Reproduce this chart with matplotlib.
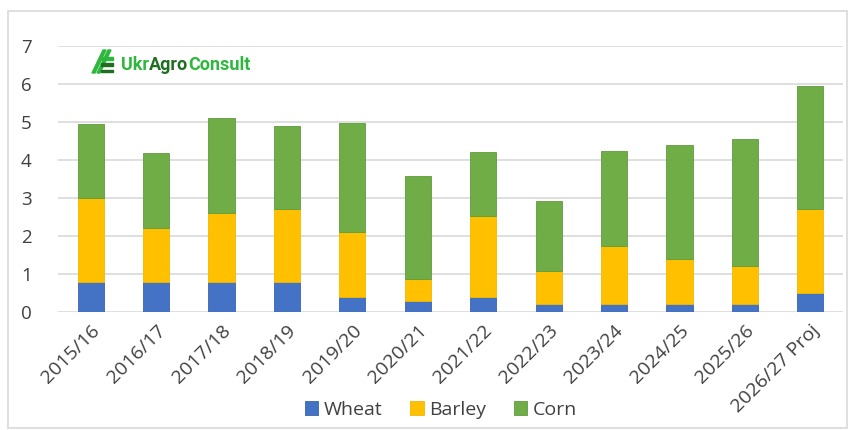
import numpy as np
import matplotlib.pyplot as plt
from matplotlib.patches import Rectangle, Polygon

# Data (million tonnes)
seasons = ['2015/16', '2016/17', '2017/18', '2018/19', '2019/20', '2020/21',
           '2021/22', '2022/23', '2023/24', '2024/25', '2025/26', '2026/27 Proj']
wheat = [0.8, 0.8, 0.8, 0.8, 0.4, 0.3, 0.4, 0.2, 0.2, 0.2, 0.2, 0.5]
barley = [2.2, 1.4, 1.8, 1.9, 1.7, 0.57, 2.13, 0.88, 1.54, 1.19, 1.01, 2.2]
corn = [1.95, 1.98, 2.51, 2.19, 2.88, 2.7, 1.68, 1.84, 2.51, 3.0, 3.33, 3.25]

colors = {'Wheat': '#4472C4', 'Barley': '#FFC000', 'Corn': '#70AD47'}
edges = {'Wheat': '#3A64B0', 'Barley': '#F2B600', 'Corn': '#5E9C3A'}

W, H = 850, 430
fig = plt.figure(figsize=(W / 100, H / 100), dpi=100)
plt.rcParams['font.family'] = ['Open Sans', 'DejaVu Sans']

def px(x, y):
    return x / W, 1 - y / H

# light frame around the chart
fig.add_artist(Rectangle(px(8, 428), 839 / W, 417 / H, transform=fig.transFigure,
                         fill=False, edgecolor='#D9D9D9', linewidth=1.2))

ax = fig.add_axes([58 / W, 1 - 312 / H, (843 - 58) / W, (312 - 46) / H])
x = np.arange(len(seasons))
w = 0.4
bottom = np.zeros(len(seasons))
for name, vals in [('Wheat', wheat), ('Barley', barley), ('Corn', corn)]:
    ax.bar(x, vals, w, bottom=bottom, color=colors[name], edgecolor=edges[name],
           linewidth=0.6, label=name, zorder=3)
    bottom += np.array(vals)

ax.set_xlim(-0.5, len(seasons) - 0.5)
ax.set_ylim(0, 7)
ax.set_yticks(range(8))
ax.grid(axis='y', color='#D9D9D9', linewidth=1.2, zorder=0)
for s in ['top', 'right', 'left', 'bottom']:
    ax.spines[s].set_visible(False)
ax.tick_params(length=0)
ax.tick_params(axis='y', labelsize=13.5, labelcolor='#404040', pad=19)
ax.set_xticks(x)
ax.set_xticklabels(seasons, rotation=45, ha='right', rotation_mode='anchor',
                   fontsize=14, color='#404040')
ax.tick_params(axis='x', pad=7)

leg = fig.legend(loc='center', bbox_to_anchor=(441 / W, 1 - 410 / H), ncol=3,
                 frameon=False, fontsize=14, handlelength=0.7, handleheight=0.7,
                 handletextpad=0.3, columnspacing=1.4, labelcolor='#404040')

# logo
green = '#2DB83D'
dark = '#1F6E22'
for dx in (0, 5):
    fig.add_artist(Polygon([px(92 + dx, 73), px(95 + dx, 73), px(106 + dx, 50), px(103 + dx, 50)],
                           closed=True, transform=fig.transFigure, color=green))
for yy, c in [(58, green), (64, dark), (70, dark)]:
    fig.add_artist(Rectangle(px(101, yy + 2), 12 / W, 2.5 / H, transform=fig.transFigure, color=c))

fig.canvas.draw()
r = fig.canvas.get_renderer()
parts = [('Ukr', green), ('Agro', dark), ('Consult', green)]
xpos = 121
for txt, c in parts:
    t = fig.text(xpos / W, 1 - 70 / H, txt, color=c, fontsize=13, fontweight='bold',
                 family='Roboto', va='baseline')
    bb = t.get_window_extent(renderer=r)
    xpos += bb.width

fig.savefig('out.png', dpi=100)
